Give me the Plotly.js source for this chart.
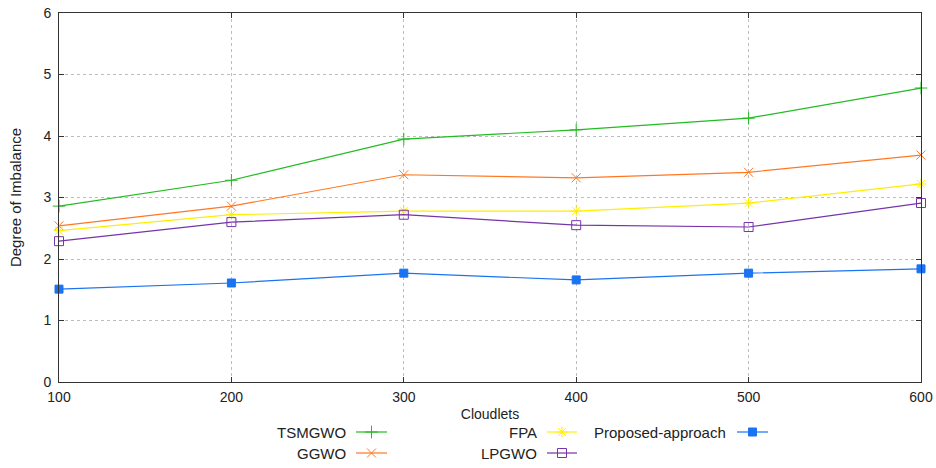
<!DOCTYPE html>
<html>
<head>
<meta charset="utf-8">
<script src="https://cdn.plot.ly/plotly-3.0.1.min.js"></script>
<style>html,body{margin:0;padding:0;background:#fff;}#chart{width:936px;height:468px;}</style>
</head>
<body>
<div id="chart"></div>
<script>
const cloudlets = [100, 200, 300, 400, 500, 600];
const seriesNames = ["TSMGWO", "GGWO", "FPA", "LPGWO", "Proposed-approach"];
const tsmgwo   = [2.86, 3.28, 3.95, 4.10, 4.29, 4.78];
const ggwo     = [2.54, 2.86, 3.37, 3.32, 3.41, 3.69];
const fpa      = [2.46, 2.72, 2.78, 2.78, 2.91, 3.22];
const lpgwo    = [2.29, 2.60, 2.72, 2.55, 2.52, 2.91];
const proposed = [1.51, 1.61, 1.77, 1.66, 1.77, 1.84];
const yTicks = [0, 1, 2, 3, 4, 5, 6];

const values = [tsmgwo, ggwo, fpa, lpgwo, proposed];
const styles = [
  {color: "#22bb22", symbol: "cross-thin-open", size: 9},
  {color: "#ff7722", symbol: "x-thin-open", size: 9},
  {color: "#ffee00", symbol: "asterisk-open", size: 9},
  {color: "#7733aa", symbol: "square-open", size: 9},
  {color: "#1a73f0", symbol: "square", size: 8}
];

const font = "Liberation Sans, Arial, sans-serif";
const traces = values.map((v, i) => ({
  x: cloudlets, y: v, type: "scatter", mode: "lines+markers",
  name: seriesNames[i], showlegend: false, cliponaxis: false,
  line: {color: styles[i].color, width: 1.2},
  marker: {symbol: styles[i].symbol, size: styles[i].size, color: styles[i].color,
           line: {color: styles[i].color, width: 1}}
}));

// custom legend (text left of sample, gnuplot style)
const legendPos = [
  {tx: 348, ly: 432, l0: 356, l1: 387},
  {tx: 348, ly: 453, l0: 356, l1: 387},
  {tx: 539, ly: 432, l0: 547, l1: 577},
  {tx: 539, ly: 453, l0: 547, l1: 577},
  {tx: 728, ly: 432, l0: 737, l1: 768}
];
const W = 936, H = 468, mL = 59, mR = 15, mT = 13, mB = 8;
const pw = W - mL - mR, ph = H - mT - mB;
const px = p => (p - mL) / pw;
const py = p => (H - mB - p) / ph;
const plotBottom = 382;
const domBottom = py(plotBottom);

const annotations = [], shapes = [];
legendPos.forEach((p, i) => {
  annotations.push({x: px(p.tx), y: py(p.ly), xref: "paper", yref: "paper",
    text: seriesNames[i], showarrow: false, xanchor: "right", yanchor: "middle",
    font: {family: font, size: 15, color: "#222"}});
  shapes.push({type: "line", xref: "paper", yref: "paper",
    x0: px(p.l0), x1: px(p.l1), y0: py(p.ly), y1: py(p.ly),
    line: {color: styles[i].color, width: 1.2}});
  traces.push({x: [px((p.l0 + p.l1) / 2)], y: [py(p.ly)], xaxis: "x2", yaxis: "y2",
    type: "scatter", mode: "markers", showlegend: false, hoverinfo: "skip", cliponaxis: false,
    marker: {symbol: styles[i].symbol, size: styles[i].size, color: styles[i].color,
             line: {color: styles[i].color, width: 1}}});
});

const legDom = 0.12;
const layout = {
  width: W, height: H,
  margin: {l: mL, r: mR, t: mT, b: mB},
  paper_bgcolor: "#fff", plot_bgcolor: "rgba(0,0,0,0)",
  font: {family: font, size: 14, color: "#222"},
  xaxis: {range: [100, 600], tickvals: cloudlets, domain: [0, 1], anchor: "y",
    showgrid: true, gridcolor: "#bdbdbd", griddash: "dot", gridwidth: 1,
    showline: true, linecolor: "#333", linewidth: 1, mirror: "allticks",
    ticks: "inside", ticklen: 5, tickcolor: "#333", zeroline: false,
    ticklabelstandoff: 2,
    tickfont: {family: font, size: 14, color: "#222"},
    title: {text: "Cloudlets", font: {family: font, size: 14, color: "#222"}, standoff: 5}},
  yaxis: {range: [0, 6], tickvals: yTicks, domain: [domBottom, 1], anchor: "x",
    showgrid: true, gridcolor: "#bdbdbd", griddash: "dot", gridwidth: 1,
    showline: true, linecolor: "#333", linewidth: 1, mirror: "allticks",
    ticks: "inside", ticklen: 5, tickcolor: "#333", zeroline: false,
    ticklabelstandoff: 4,
    tickfont: {family: font, size: 14, color: "#222"},
    title: {text: "Degree of Imbalance", font: {family: font, size: 15, color: "#222"}, standoff: 18}},
  xaxis2: {domain: [0, 1], range: [0, 1], visible: false, fixedrange: true, anchor: "y2", showgrid: false, zeroline: false},
  yaxis2: {domain: [0, legDom], range: [0, legDom], visible: false, fixedrange: true, anchor: "x2", showgrid: false, zeroline: false},
  annotations: annotations,
  shapes: shapes,
  showlegend: false
};
Plotly.newPlot("chart", traces, layout, {displayModeBar: false, staticPlot: true});
</script>
</body>
</html>
